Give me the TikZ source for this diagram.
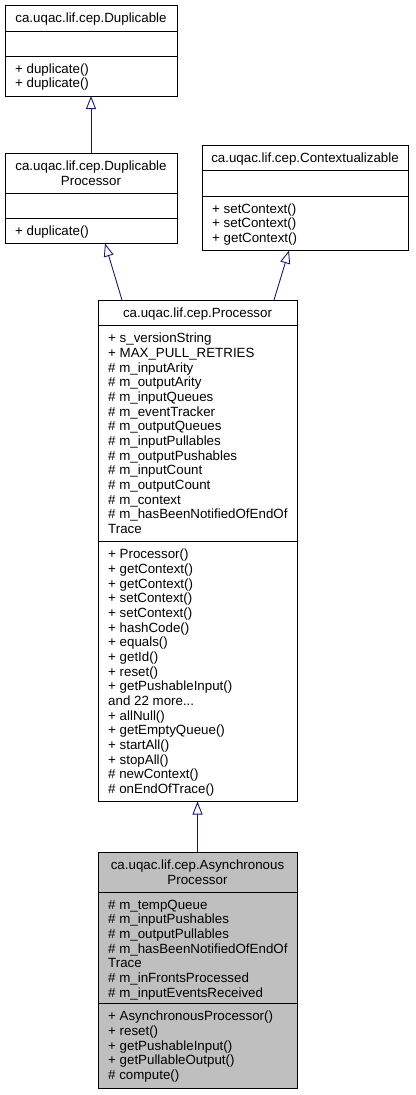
\documentclass[tikz,border=0pt]{standalone}
\usepackage{fontspec}
\setmainfont{Liberation Sans}
\usetikzlibrary{arrows.meta,calc}
\definecolor{edgeblue}{HTML}{191970}
\definecolor{boxgray}{HTML}{BFBFBF}
\newcommand{\andmore}{and 22 more.{}.{}.}
\begin{document}
\begin{tikzpicture}[x=1pt,y=-1pt,
  box/.style={draw=black,line width=0.9pt,anchor=north west,inner sep=0pt,outer sep=0pt},
  txt/.style={anchor=base west,inner sep=0pt,font=\fontsize{13.33}{14.67}\selectfont},
  ttl/.style={anchor=base,inner sep=0pt,font=\fontsize{13.33}{14.67}\selectfont},
  sep/.style={draw=black,line width=0.9pt},
  inh/.style={draw=edgeblue,line width=0.9pt,-{Triangle[open,length=13pt,width=10pt]}}]
\useasboundingbox (0,0) rectangle (415,1095);

% Duplicable
\node[box,minimum width=172pt,minimum height=91pt] (dup) at (5,5) {};
\draw[sep] (dup.west |- 0,31) -- (dup.east |- 0,31);
\draw[sep] (dup.west |- 0,56) -- (dup.east |- 0,56);
\node[ttl] (dupt) at (91,22.6) {ca.uqac.lif.cep.Duplicable};
\foreach \t [count=\i] in {+ duplicate(),+ duplicate()}
  \node[txt] (dupm\i) at (15,{73.3+14.67*(\i-1)}) {\t};

% DuplicableProcessor
\node[box,minimum width=172pt,minimum height=90.5pt] (dp) at (5,153) {};
\draw[sep] (dp.west |- 0,193) -- (dp.east |- 0,193);
\draw[sep] (dp.west |- 0,218.5) -- (dp.east |- 0,218.5);
\node[ttl] (dpt1) at (91,170.3) {ca.uqac.lif.cep.Duplicable};
\node[ttl] (dpt2) at (91,185) {Processor};
\node[txt] (dpm1) at (15,235.8) {+ duplicate()};

% Contextualizable
\node[box,minimum width=206pt,minimum height=105.5pt] (ctx) at (202,145) {};
\draw[sep] (ctx.west |- 0,170.5) -- (ctx.east |- 0,170.5);
\draw[sep] (ctx.west |- 0,196) -- (ctx.east |- 0,196);
\node[ttl] (ctxt) at (305,162.3) {ca.uqac.lif.cep.Contextualizable};
\foreach \t [count=\i] in {+ setContext(),+ setContext(),+ getContext()}
  \node[txt] (ctxm\i) at (212,{213.3+14.67*(\i-1)}) {\t};

% Processor
\node[box,minimum width=199pt,minimum height=501.5pt] (pr) at (98,300) {};
\draw[sep] (pr.west |- 0,325.5) -- (pr.east |- 0,325.5);
\draw[sep] (pr.west |- 0,541.5) -- (pr.east |- 0,541.5);
\node[ttl] (prt) at (197.5,317.3) {ca.uqac.lif.cep.Processor};
\foreach \t [count=\i] in {+ s\_versionString,+ MAX\_PULL\_RETRIES,\# m\_inputArity,\# m\_outputArity,\# m\_inputQueues,\# m\_eventTracker,\# m\_outputQueues,\# m\_inputPullables,\# m\_outputPushables,\# m\_inputCount,\# m\_outputCount,\# m\_context,\# m\_hasBeenNotifiedOfEndOf,Trace}
  \node[txt] (pra\i) at (108,{342.8+14.67*(\i-1)}) {\t};
\foreach \t [count=\i] in {+ Processor(),+ getContext(),+ getContext(),+ setContext(),+ setContext(),+ hashCode(),+ equals(),+ getId(),+ reset(),+ getPushableInput(),\andmore,+ allNull(),+ getEmptyQueue(),+ startAll(),+ stopAll(),\# newContext(),\# onEndOfTrace()}
  \node[txt] (prm\i) at (108,{558.9+14.67*(\i-1)}) {\t};

% AsynchronousProcessor
\node[box,fill=boxgray,minimum width=199pt,minimum height=236.5pt] (as) at (98,852) {};
\draw[sep] (as.west |- 0,892) -- (as.east |- 0,892);
\draw[sep] (as.west |- 0,1003.5) -- (as.east |- 0,1003.5);
\node[ttl] (ast1) at (197.5,869.3) {ca.uqac.lif.cep.Asynchronous};
\node[ttl] (ast2) at (197.5,884) {Processor};
\foreach \t [count=\i] in {\# m\_tempQueue,\# m\_inputPushables,\# m\_outputPullables,\# m\_hasBeenNotifiedOfEndOf,Trace,\# m\_inFrontsProcessed,\# m\_inputEventsReceived}
  \node[txt] (asa\i) at (108,{909.3+14.67*(\i-1)}) {\t};
\foreach \t [count=\i] in {+ AsynchronousProcessor(),+ reset(),+ getPushableInput(),+ getPullableOutput(),\# compute()}
  \node[txt] (asm\i) at (108,{1020.8+14.67*(\i-1)}) {\t};

% inheritance connectors
\draw[inh] (dp.north) -- (dup.south);
\draw[inh] ($(pr.north west)+(24,0)$) -- ($(dp.south west)+(100,0)$);
\draw[inh] ($(pr.north west)+(176,0)$) -- ($(ctx.south west)+(87,0)$);
\draw[inh] (as.north) -- (pr.south);
\end{tikzpicture}
\end{document}
